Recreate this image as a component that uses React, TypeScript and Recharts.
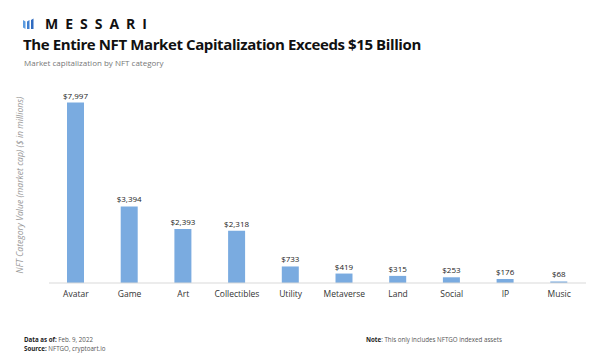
import React from "react";
import { BarChart, Bar, XAxis, YAxis, LabelList } from "recharts";

const categories = ["Avatar", "Game", "Art", "Collectibles", "Utility", "Metaverse", "Land", "Social", "IP", "Music"];
const marketCap = [7997, 3394, 2393, 2318, 733, 419, 315, 253, 176, 68];

const data = categories.map((name, i) => ({ name, value: marketCap[i] }));

const BAR_COLOR = "#7aabe0";
const fmt = (v: number) => `$${v.toLocaleString("en-US")}`;

function Logo() {
  return (
    <div style={{ position: "absolute", left: 23, top: 17, display: "flex", alignItems: "center" }}>
      <svg width={12} height={12} viewBox="0 0 12 12">
        <polygon points="0,2 2.5,3.5 2.5,11 0,9.5" fill="#5b9be0" />
        <polygon points="4,3.5 6.5,2 6.5,11 4,11" fill="#3f7fd0" />
        <polygon points="8,2 10.5,0.5 10.5,11 8,11" fill="#2f6bc0" />
      </svg>
      <span
        style={{
          marginLeft: 10,
          fontFamily: "'Open Sans', sans-serif",
          fontWeight: 700,
          fontSize: 14,
          letterSpacing: 7,
          color: "#111",
          lineHeight: "14px",
        }}
      >
        MESSARI
      </span>
    </div>
  );
}

export default function App() {
  return (
    <div style={{ position: "absolute", left: 0, top: 0, width: 602, height: 357, background: "#fff", fontFamily: "'Open Sans', sans-serif" }}>
      <Logo />
      <div style={{ position: "absolute", left: 23, top: 34, fontSize: 15, lineHeight: "20px", fontWeight: 700, letterSpacing: -0.4, color: "#111", whiteSpace: "nowrap" }}>
        The Entire NFT Market Capitalization Exceeds $15 Billion
      </div>
      <div style={{ position: "absolute", left: 24, top: 57, fontSize: 8, lineHeight: "11px", color: "#777", whiteSpace: "nowrap" }}>
        Market capitalization by NFT category
      </div>
      <div
        style={{
          position: "absolute",
          left: 20,
          top: 185,
          transform: "translate(-50%, -50%) rotate(-90deg)",
          fontSize: 8.6,
          fontStyle: "italic",
          color: "#999",
          whiteSpace: "nowrap",
        }}
      >
        NFT Category Value (market cap) ($ in millions)
      </div>
      <BarChart
        width={602}
        height={357}
        data={data}
        margin={{ top: 80, right: 16, bottom: 44, left: 49 }}
        style={{ position: "absolute", left: 0, top: 0 }}
      >
        <XAxis
          dataKey="name"
          height={30}
          tickLine={false}
          axisLine={{ stroke: "#d9d9d9" }}
          tick={{ fontSize: 8.5, fill: "#333" }}
          interval={0}
        />
        <YAxis hide domain={[0, 9000]} />
        <Bar dataKey="value" fill={BAR_COLOR} barSize={17} isAnimationActive={false}>
          <LabelList dataKey="value" position="top" formatter={(v: any) => fmt(Number(v))} style={{ fontSize: 8, fill: "#222" }} offset={4} />
        </Bar>
      </BarChart>
      <div style={{ position: "absolute", left: 24, top: 335, fontSize: 6.2, color: "#555", lineHeight: "9px", whiteSpace: "nowrap" }}>
        <div><b style={{ color: "#222" }}>Data as of:</b> Feb. 9, 2022</div>
        <div><b style={{ color: "#222" }}>Source:</b> NFTGO, cryptoart.io</div>
      </div>
      <div style={{ position: "absolute", left: 366, top: 335, fontSize: 6.2, color: "#555", lineHeight: "9px", whiteSpace: "nowrap" }}>
        <b style={{ color: "#222" }}>Note</b>: This only includes NFTGO indexed assets
      </div>
    </div>
  );
}
